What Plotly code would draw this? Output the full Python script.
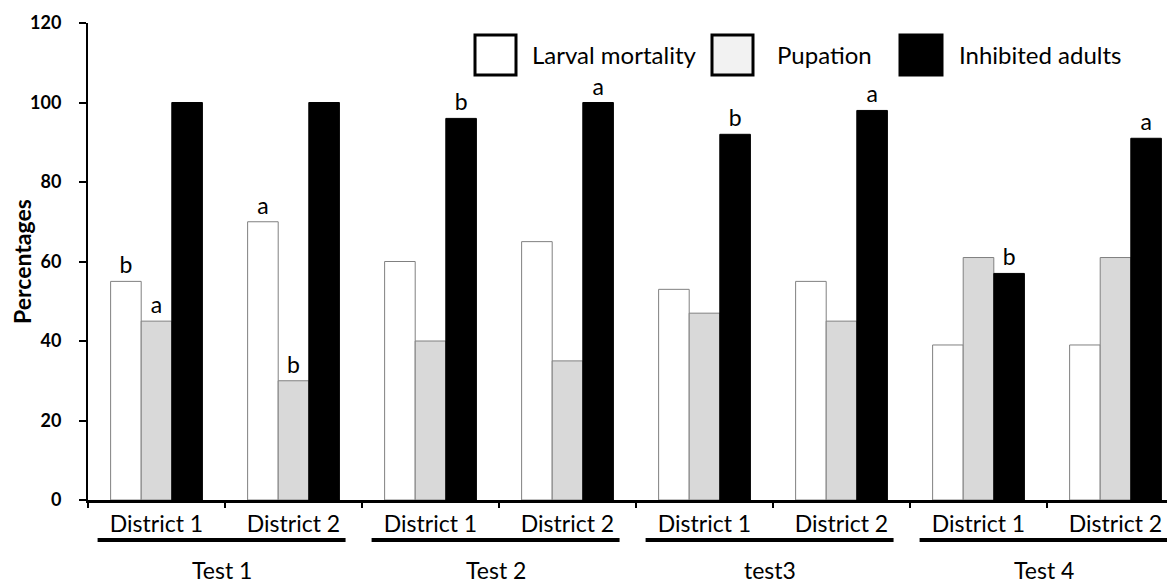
import plotly.graph_objects as go

# ---- data ----
tests = ["Test 1", "Test 2", "test3", "Test 4"]
districts = ["District 1", "District 2"]
series_names = ["Larval mortality", "Pupation", "Inhibited adults"]
larval = [55, 70, 60, 65, 53, 55, 39, 39]
pupation = [45, 30, 40, 35, 47, 45, 61, 61]
inhibited = [100, 100, 96, 100, 92, 98, 57, 91]
larval_letters = ["b", "a", "", "", "", "", "", ""]
pupation_letters = ["a", "b", "", "", "", "", "", ""]
inhibited_letters = ["", "", "b", "a", "b", "a", "b", "a"]
yticks = [0, 20, 40, 60, 80, 100, 120]

# ---- styles / layout (screen pixels; page body has an 8px margin) ----
FONT = "Lato"
OFF = 8
W, H = 1175, 582
AX_L, AX_R, AX_T, AX_B = 88, 1175, 23, 500   # target plot area on screen
ML = AX_L - OFF
MT = AX_T - OFF
MR = W - (AX_R - OFF)
MB = H - (AX_B - OFF)
fills = ["#ffffff", "#d9d9d9", "#000000"]
edges = ["#808080", "#808080", "#000000"]
legend_fills = ["#ffffff", "#f2f2f2", "#000000"]
CAT_W = 137.0

x = list(range(len(tests) * len(districts)))
ticktext = [d for _ in tests for d in districts]

fig = go.Figure()
for name, vals, letters, fc, ec in zip(series_names,
                                       [larval, pupation, inhibited],
                                       [larval_letters, pupation_letters, inhibited_letters],
                                       fills, edges):
    fig.add_trace(go.Bar(
        x=x, y=vals, name=name, text=letters,
        textposition="outside", constraintext="none", cliponaxis=False,
        textfont=dict(family=FONT, size=23, color="black"),
        marker=dict(color=fc, line=dict(color=ec, width=1)),
        showlegend=False,
    ))

pw = AX_R - AX_L
ph = AX_B - AX_T


def px_x(p):
    return (p - AX_L) / pw


def px_y(p):
    return (AX_B - p) / ph


shapes = []
annotations = []
# group brackets and labels under the districts
for g, t in enumerate(tests):
    x0 = 2 * g - 0.43
    x1 = 2 * g + 1.38
    shapes.append(dict(type="line", xref="x", yref="paper", x0=x0, x1=x1,
                       y0=px_y(540), y1=px_y(540),
                       line=dict(color="black", width=4)))
    annotations.append(dict(xref="x", yref="paper", x=(x0 + x1) / 2, y=px_y(570),
                            text=t, showarrow=False,
                            font=dict(family=FONT, size=23, color="black"),
                            xanchor="center", yanchor="middle"))

# custom legend (large boxes)
legend_boxes = [(475, 516, 530), (712, 753, 775), (900, 942, 957)]
for (bx0, bx1, tx), name, fc in zip(legend_boxes, series_names, legend_fills):
    shapes.append(dict(type="rect", xref="paper", yref="paper",
                       x0=px_x(bx0), x1=px_x(bx1), y0=px_y(75), y1=px_y(35),
                       fillcolor=fc, line=dict(color="black", width=3)))
    annotations.append(dict(xref="paper", yref="paper", x=px_x(tx), y=px_y(55),
                            text=name, showarrow=False, xanchor="left", yanchor="middle",
                            font=dict(family=FONT, size=24, color="black")))

fig.update_layout(
    width=W, height=H,
    margin=dict(l=ML, r=MR, t=MT, b=MB, pad=0, autoexpand=False),
    paper_bgcolor="white", plot_bgcolor="white",
    barmode="group", bargap=0.33, bargroupgap=0,
    shapes=shapes, annotations=annotations,
    font=dict(family=FONT, color="black"),
)
fig.update_xaxes(
    automargin=False,
    range=[-0.5, -0.5 + pw / CAT_W],
    tickmode="array", tickvals=x, ticktext=ticktext,
    ticks="", tickfont=dict(family=FONT, size=23, color="black"),
    ticklabelstandoff=1,
    showline=True, linecolor="black", linewidth=3,
    showgrid=False, zeroline=False,
    minor=dict(tick0=-0.5, dtick=1, ticks="outside", ticklen=5, tickwidth=2,
               tickcolor="black", showgrid=False),
)
fig.update_yaxes(
    automargin=False,
    range=[0, 120], tickmode="array", tickvals=yticks,
    ticks="outside", ticklen=7, tickwidth=2, tickcolor="black",
    tickfont=dict(family=FONT, size=18, color="black", weight="bold"),
    ticklabelstandoff=14,
    showline=True, linecolor="black", linewidth=2,
    showgrid=False, zeroline=False,
    title=dict(text="Percentages", standoff=4,
               font=dict(family=FONT, size=23, color="black", weight="bold")),
)

fig.write_html("out.html")
